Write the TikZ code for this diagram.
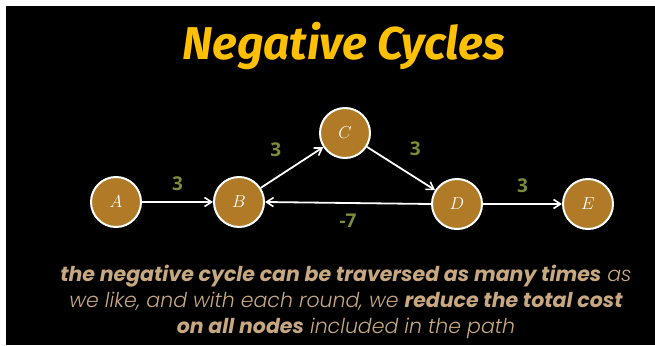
\documentclass[tikz,border=0pt]{standalone}
\usepackage{fontspec}
\usetikzlibrary{arrows.meta, positioning}
\newfontfamily\titlefont{Fira Sans}
\newfontfamily\labelfont{Open Sans}
\newfontfamily\notefont{Poppins}[ItalicFont={Poppins Light Italic}, BoldItalicFont={Poppins Bold Italic}]
\definecolor{titleyellow}{RGB}{255,192,0}
\definecolor{nodebrown}{RGB}{176,122,38}
\definecolor{costgreen}{RGB}{122,142,58}
\definecolor{notetan}{RGB}{200,168,128}

\begin{document}
\begin{tikzpicture}[
        x=1pt,
        y=-1pt,
        vertex/.style={circle, draw=white, line width=2pt, fill=nodebrown,
                       minimum size=50pt, inner sep=0pt, text=white,
                       font=\fontsize{17}{17}\selectfont},
        edge/.style={-{Straight Barb[length=7pt, width=9pt, line width=1.6pt]}, line width=1.8pt, draw=white},
        cost/.style={font=\labelfont\bfseries\fontsize{19}{19}\selectfont, text=costgreen, inner sep=2pt}
    ]
        \useasboundingbox (0,0) rectangle (655,345);
        \fill[white] (0,0) rectangle (655,345);
        \fill[black] (6,6) rectangle (655,345);

        % === TITRE ===
        \node[font=\titlefont\bfseries\itshape\fontsize{46}{46}\selectfont, text=titleyellow] (title) at (344,46) {Negative Cycles};

        % === SOMMETS ===
        \node[vertex] (A) at (116,202) {$A$};
        \node[vertex] (B) at (239,202) {$B$};
        \node[vertex] (C) at (345,133) {$C$};
        \node[vertex] (D) at (457,204) {$D$};
        \node[vertex] (E) at (588,204) {$E$};

        % === ARCS ===
        \draw[edge] (A) -- node[cost, above=8pt] {3} (B);
        \draw[edge] (B) -- node[cost, above left=8pt and 8pt] {3} (C);
        \draw[edge] (C) -- node[cost, above right=10pt and 6pt] {3} (D);
        \draw[edge] (D) -- node[cost, above=8pt] {3} (E);
        \draw[edge] (D.west) -- node[cost, below=8pt] {-7} (B.east);

        % === COMMENTAIRE ===
        \node[text=notetan, align=center, font=\notefont\itshape\fontsize{20.5}{26}\selectfont] (note) at (346,302) {
            \textbf{the negative cycle can be traversed as many times} as\\
            we like, and with each round, we \textbf{reduce the total cost}\\
            \textbf{on all nodes} included in the path
        };
    \end{tikzpicture}
\end{document}
